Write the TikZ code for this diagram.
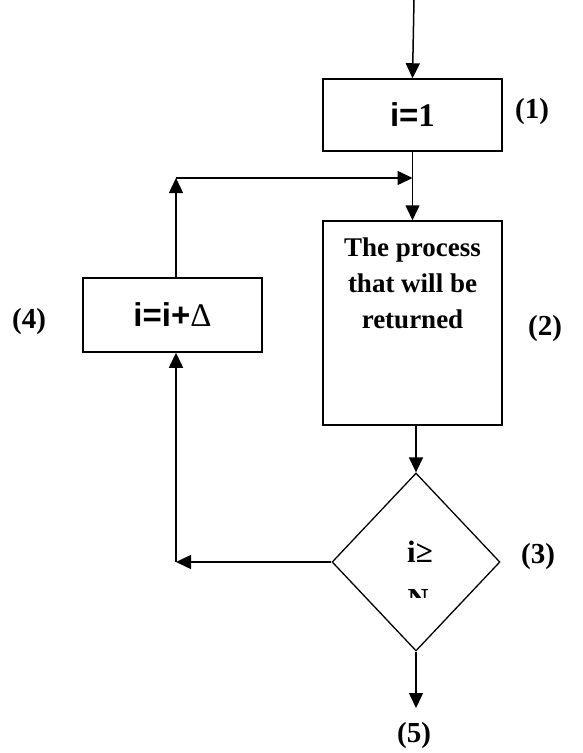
\documentclass[tikz,border=0pt]{standalone}
\usepackage{fontspec}
\setmainfont{Liberation Serif}
\newfontfamily\arialfont{Liberation Sans}
\usepackage{xcolor}
\usetikzlibrary{shapes.geometric,arrows.meta}
\definecolor{ink}{HTML}{000000}
\definecolor{paper}{HTML}{FFFFFF}
\tikzset{
  box/.style={draw=ink, line width=1.5pt, rectangle, inner sep=0pt},
  decbox/.style={draw=ink, line width=1.3pt, diamond, inner sep=0pt},
  flow/.style={draw=ink, line width=1.5pt, -{Triangle[length=15pt,width=14pt]}},
  tag/.style={text=ink, font=\bfseries\fontsize{29}{33}\selectfont},
  asg/.style={text=ink, font=\arialfont\bfseries\fontsize{33}{37}\selectfont},
}

\begin{document}
\begin{tikzpicture}[x=1pt,y=-1pt]
  \useasboundingbox (0,0) rectangle (582,753);
  % boxes
  \node[box, minimum width=179pt, minimum height=72pt] (init) at (412.5,115) {};
  \node[asg] (inittxt) at (412.5,115) {i=\textrm{1}};
  \node[box, minimum width=179pt, minimum height=204pt] (proc) at (412.5,323) {};
  \node[text=ink, font=\bfseries\fontsize{27}{36}\selectfont, align=center]
    (proctxt) at (412.5,283) {The process\\that will be\\returned};
  \node[box, minimum width=179pt, minimum height=74pt] (upd) at (172.5,315) {};
  \node[asg] (updtxt) at (172.5,315) {i=i+{\mdseries\rmfamily Δ}};
  \node[decbox, minimum width=168pt, minimum height=178pt] (dec) at (416,562) {};
  \node[text=ink, font=\bfseries\fontsize{31}{35}\selectfont] (dectxt) at (420,552) {i≥};
  \begin{scope}
    \clip (380,580) rectangle (460,597);
    \node[text=ink, font=\bfseries\fontsize{29}{33}\selectfont, anchor=north] (decn) at (418,586) {N};
  \end{scope}
  % step numbers
  \node[tag] (n1) at (532,112) {(1)};
  \node[tag] (n2) at (545,329) {(2)};
  \node[tag] (n3) at (538,557) {(3)};
  \node[tag] (n4) at (29,322) {(4)};
  \node[tag] (n5) at (414,736) {(5)};
  % connectors
  \coordinate (in) at (414,0);
  \coordinate (join) at (412.5,178);
  \coordinate (ul) at (176,178);
  \coordinate (ll) at (176,562);
  \coordinate (out) at (416,708);
  \draw[flow] (in) -- (init.north);
  \draw[flow] (init.south) -- (proc.north);
  \draw[flow] (ul |- upd.north) -- (ul);
  \draw[flow] (ul) -- (join);
  \draw[flow] (proc.south -| dec.north) -- (dec.north);
  \draw[flow] (dec.west) -- (ll);
  \draw[flow] (ll) -- (ll |- upd.south);
  \draw[flow] (dec.south) -- (out);
\end{tikzpicture}
\end{document}
